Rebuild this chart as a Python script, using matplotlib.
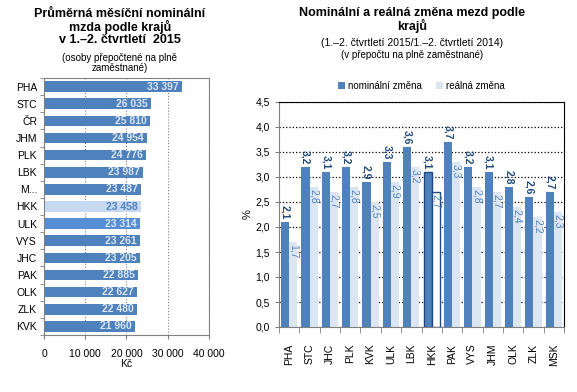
import matplotlib.pyplot as plt
import numpy as np

# left chart - average monthly wage by region
kraje = ['PHA', 'STC', 'ČR', 'JHM', 'PLK', 'LBK', 'M...', 'HKK', 'ULK',
         'VYS', 'JHC', 'PAK', 'OLK', 'ZLK', 'KVK']
mzda = [33397, 26035, 25810, 24954, 24776, 23987, 23487, 23458, 23314,
        23261, 23205, 22885, 22627, 22480, 21960]

# right chart - nominal and real change
kraje2 = ['PHA', 'STC', 'JHC', 'PLK', 'KVK', 'ULK', 'LBK', 'HKK', 'PAK',
          'VYS', 'JHM', 'OLK', 'ZLK', 'MSK']
nominalni = [2.1, 3.2, 3.1, 3.2, 2.9, 3.3, 3.6, 3.1, 3.7, 3.2, 3.1, 2.8, 2.6, 2.7]
realna = [1.7, 2.8, 2.7, 2.8, 2.5, 2.9, 3.2, 2.7, 3.3, 2.8, 2.7, 2.4, 2.2, 2.3]

blue = '#4F81BD'
light = '#DCE6F2'
dark = '#1F497D'

def fmt(v):
    return f'{v:,}'.replace(',', ' ')

def cz(v):
    return f'{v:.1f}'.replace('.', ',')

plt.rcParams['font.family'] = ['Liberation Sans', 'DejaVu Sans']
fig = plt.figure(figsize=(5.77, 3.92), dpi=100)

##------------- left chart -------------
ax1 = fig.add_axes([44/577, 1-335/392, 165/577, 257/392])
y = np.arange(len(kraje))
cols = [blue] * len(kraje)
cols[kraje.index('HKK')] = '#C6D9F1'
cols[kraje.index('ULK')] = '#558ED5'
ax1.barh(y, mzda, height=0.62, color=cols, zorder=2)
for i, v in enumerate(mzda):
    tc = '#4F81BD' if kraje[i] == 'HKK' else light
    ax1.text(v - 800, i, fmt(v), ha='right', va='center', fontsize=7.5,
             fontweight='bold', color=tc, zorder=3)
ax1.set_ylim(len(kraje) - 0.5, -0.5)
ax1.set_xlim(0, 40000)
ax1.set_xticks([0, 10000, 20000, 30000, 40000])
ax1.set_xticklabels([fmt(t) for t in [0, 10000, 20000, 30000, 40000]], fontsize=7.5)
ax1.set_yticks(y)
ax1.set_yticklabels(kraje, fontsize=7.5)
ax1.set_yticks(np.arange(len(kraje) + 1) - 0.5, minor=True)
ax1.tick_params(axis='y', which='major', length=0, pad=5)
ax1.tick_params(axis='y', which='minor', length=3, color='#808080')
ax1.tick_params(axis='x', length=3, color='#808080', pad=7)
ax1.grid(axis='x', linestyle=':', color='#808080', linewidth=0.8, zorder=0)
for s in ax1.spines.values():
    s.set_color('#808080')
ax1.set_xlabel('Kč', fontsize=7.5, labelpad=0)
fig.text(120/577, 1-8/392, 'Průměrná měsíční nominální\nmzda podle krajů\nv 1.–2. čtvrtletí  2015',
         ha='center', va='top', fontsize=9, fontweight='bold', linespacing=1.0)
fig.text(120/577, 1-53/392, '(osoby přepočtené na plně\nzaměstnané)',
         ha='center', va='top', fontsize=7, linespacing=1.0)

##------------- right chart -------------
ax2 = fig.add_axes([279/577, 1-327/392, 285/577, 225/392])
x = np.arange(len(kraje2))
w = 0.4
ec1 = ['none'] * len(kraje2)
ec2 = ['none'] * len(kraje2)
fc2 = [light] * len(kraje2)
h = kraje2.index('HKK')
ec1[h] = dark
ec2[h] = dark
fc2[h] = 'white'
ax2.bar(x - w/2, nominalni, width=w, color=blue, edgecolor=ec1, linewidth=1,
        label='nominální změna', zorder=2)
ax2.bar(x + w/2, realna, width=w, color=fc2, edgecolor=ec2, linewidth=1,
        label='reálná změna', zorder=2)
for i in x:
    ax2.text(i - w/2, nominalni[i] + 0.05, cz(nominalni[i]), rotation=270,
             ha='center', va='bottom', fontsize=7.5, fontweight='bold', color=dark, zorder=3)
    ax2.text(i + w/2, realna[i] - 0.05, cz(realna[i]), rotation=270,
             ha='center', va='top', fontsize=7.5, color=blue, zorder=3)
ax2.set_ylim(0, 4.5)
ax2.set_xlim(-0.5, len(kraje2) - 0.5)
ax2.set_yticks(np.arange(0, 4.51, 0.5))
ax2.set_yticklabels([cz(t) for t in np.arange(0, 4.51, 0.5)], fontsize=7.5)
ax2.set_xticks(x)
ax2.set_xticklabels(kraje2, rotation=90, fontsize=7.5)
ax2.set_xticks(np.arange(len(kraje2) + 1) - 0.5, minor=True)
ax2.tick_params(axis='x', which='major', length=0, pad=12)
ax2.tick_params(axis='x', which='minor', length=4, color='#808080')
ax2.tick_params(axis='y', length=3, color='#808080')
ax2.grid(axis='y', linestyle=':', color='black', linewidth=0.9, zorder=0)
ax2.spines['left'].set_color('#808080')
ax2.spines['bottom'].set_color('#808080')
ax2.set_ylabel('%', fontsize=8, labelpad=2)
ax2.legend(loc='lower center', bbox_to_anchor=(0.5, 1.02), ncol=2, frameon=False,
           fontsize=7, handlelength=0.7, handleheight=0.7, handletextpad=0.3,
           columnspacing=1.5, borderaxespad=0.3)
fig.text(412/577, 1-7/392, 'Nominální a reálná změna mezd podle\nkrajů',
         ha='center', va='top', fontsize=9, fontweight='bold', linespacing=1.0)
fig.text(412/577, 1-38/392, '(1.–2. čtvrtletí 2015/1.–2. čtvrtletí 2014)',
         ha='center', va='top', fontsize=7.5)
fig.text(412/577, 1-50/392, '(v přepočtu na plně zaměstnané)',
         ha='center', va='top', fontsize=7)

fig.savefig('out.png', dpi=100)
